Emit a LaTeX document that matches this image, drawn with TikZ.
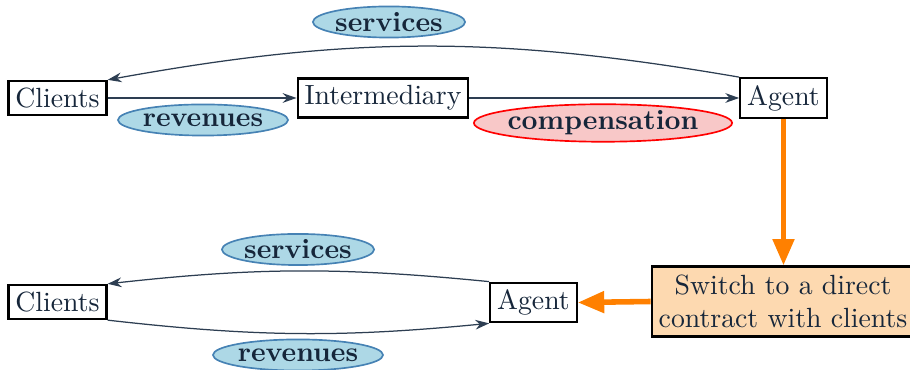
\documentclass[tikz,border=0pt]{standalone}
\usepackage{tikz}
\usetikzlibrary{shapes.geometric,arrows.meta,positioning}
\definecolor{textnavy}{RGB}{22,38,58}
\definecolor{slate}{RGB}{45,62,82}
\definecolor{ovalblue}{RGB}{173,216,230}
\definecolor{ovalborder}{RGB}{70,130,180}
\definecolor{ovalpink}{RGB}{248,200,200}
\definecolor{peach}{RGB}{253,217,176}
\definecolor{switchorange}{RGB}{255,128,0}

\begin{document}
\begin{tikzpicture}[x=0.36pt,y=-0.36pt,
    every node/.style={text=textnavy},
    box/.style={draw=black,thick,fill=white,inner sep=2.5pt},
    blueoval/.style={ellipse,draw=ovalborder,semithick,fill=ovalblue,inner sep=0pt,minimum height=11.2pt,font=\bfseries},
    redoval/.style={ellipse,draw=red,semithick,fill=ovalpink,inner xsep=-1.5pt,inner ysep=0pt,minimum height=13.5pt,font=\bfseries},
    flow/.style={-{Stealth[length=5pt,width=3.5pt]},draw=slate,line width=0.45pt},
    bigarrow/.style={-{Triangle[length=9.5pt,width=7.5pt]},draw=switchorange,fill=switchorange,line width=2pt}]
    \useasboundingbox (0,0) rectangle (910,370);
    % before: clients -> intermediary -> agent
    \node[box] (clientsA) at (57.5,98) {Clients};
    \node[box] (interm) at (383,98) {Intermediary};
    \node[box] (agentA) at (783.5,98) {Agent};
    \draw[flow] (clientsA) -- (interm);
    \draw[flow] (interm) -- (agentA);
    \draw[flow] (agentA.north west) to[bend right=10] (clientsA.north east);
    \node[blueoval] (servA) at (389,22) {services};
    \node[blueoval] (revA) at (203,120) {revenues};
    \node[redoval] (comp) at (603,123) {compensation};
    % after: direct contract
    \node[box,fill=peach,align=center,inner xsep=2.5pt,inner ysep=3pt] (switchbox) at (783,301.5) {Switch to a direct\\contract with clients};
    \node[box] (agentB) at (533.5,302.5) {Agent};
    \node[box] (clientsB) at (57.5,302) {Clients};
    \draw[flow] (agentB.north west) to[bend right=6] (clientsB.north east);
    \draw[flow] (clientsB.south east) to[bend right=6] (agentB.south west);
    \node[blueoval] (servB) at (298,249.5) {services};
    \node[blueoval] (revB) at (298,355) {revenues};
    \draw[bigarrow] (agentA.south) -- (agentA.south |- switchbox.north);
    \draw[bigarrow] (switchbox.west) -- (agentB.east);
\end{tikzpicture}
\end{document}
